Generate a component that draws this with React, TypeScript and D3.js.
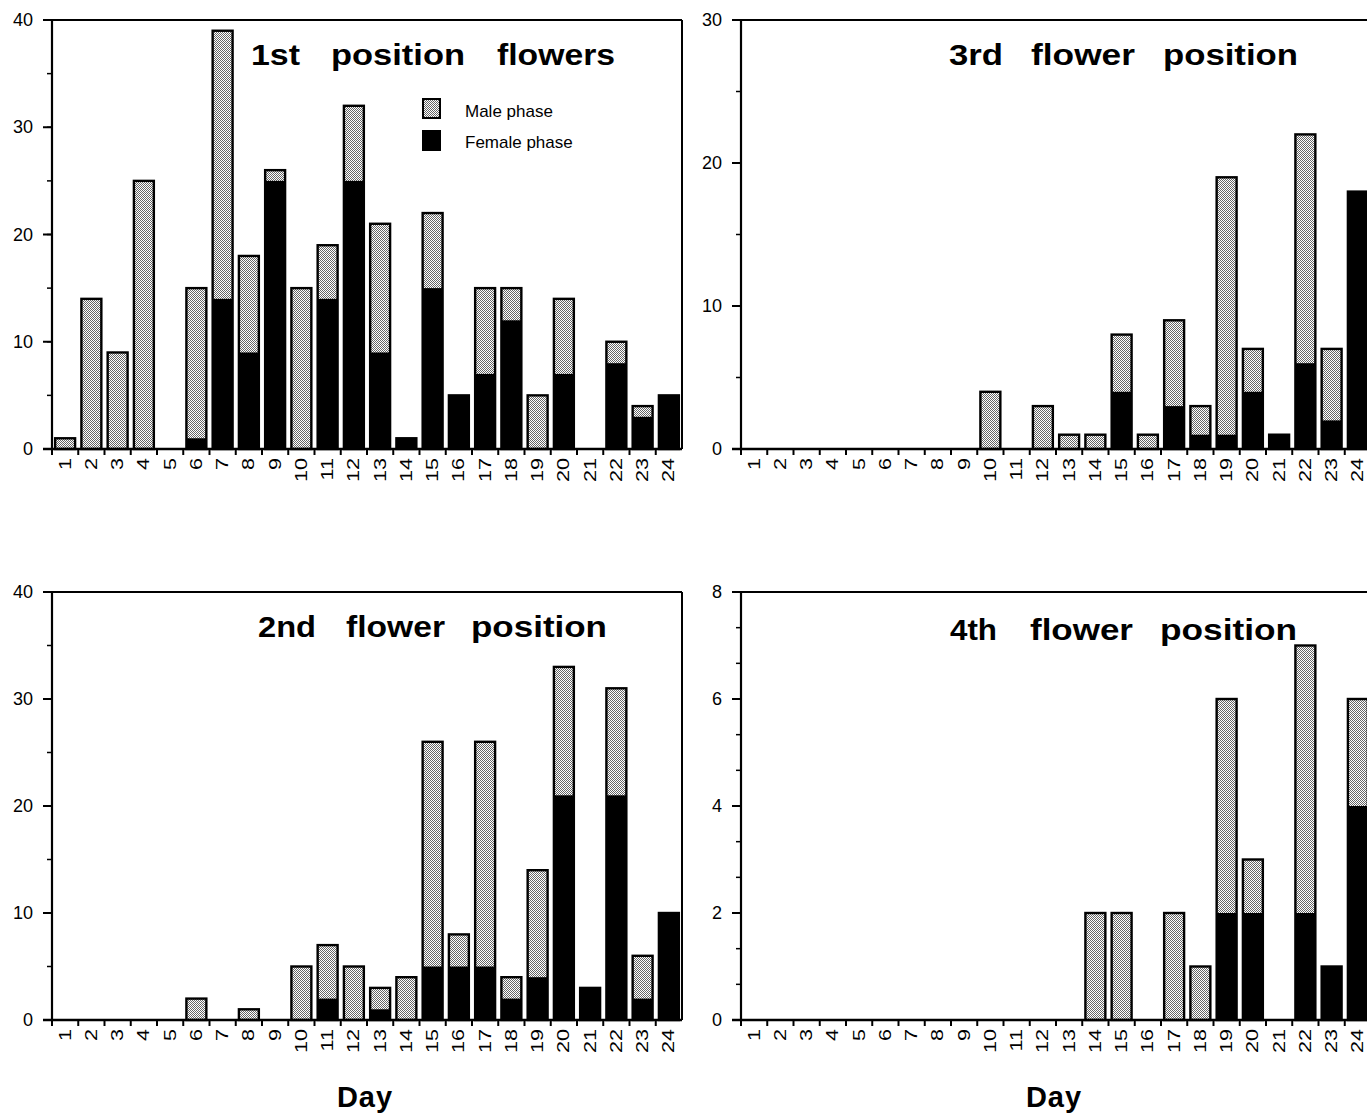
import * as d3 from "d3";

const days = d3.range(1, 25).map(String);

// totals and female-phase counts per day
const firstTotal = [1, 14, 9, 25, 0, 15, 39, 18, 26, 15, 19, 32, 21, 1, 22, 5, 15, 15, 5, 14, 0, 10, 4, 5];
const firstFemale = [0, 0, 0, 0, 0, 1, 14, 9, 25, 0, 14, 25, 9, 1, 15, 5, 7, 12, 0, 7, 0, 8, 3, 5];

const thirdTotal = [0, 0, 0, 0, 0, 0, 0, 0, 0, 4, 0, 3, 1, 1, 8, 1, 9, 3, 19, 7, 1, 22, 7, 18];
const thirdFemale = [0, 0, 0, 0, 0, 0, 0, 0, 0, 0, 0, 0, 0, 0, 4, 0, 3, 1, 1, 4, 1, 6, 2, 18];

const secondTotal = [0, 0, 0, 0, 0, 2, 0, 1, 0, 5, 7, 5, 3, 4, 26, 8, 26, 4, 14, 33, 3, 31, 6, 10];
const secondFemale = [0, 0, 0, 0, 0, 0, 0, 0, 0, 0, 2, 0, 1, 0, 5, 5, 5, 2, 4, 21, 3, 21, 2, 10];

const fourthTotal = [0, 0, 0, 0, 0, 0, 0, 0, 0, 0, 0, 0, 0, 2, 2, 0, 2, 1, 6, 3, 0, 7, 1, 6];
const fourthFemale = [0, 0, 0, 0, 0, 0, 0, 0, 0, 0, 0, 0, 0, 0, 0, 0, 0, 0, 2, 2, 0, 2, 1, 4];

const legendLabels = ["Male phase", "Female phase"];
const font = "'Liberation Sans', Arial, Helvetica, sans-serif";

// title words with [start, end] x extents
type Word = { text: string; x0: number; x1: number };

type PanelProps = {
  left: number;
  top: number;
  bottom: number;
  yMax: number;
  majorStep: number;
  minorStep: number;
  total: number[];
  female: number[];
  title: Word[];
  titleY: number;
  legend?: boolean;
  xLabel?: boolean;
};

function Panel(p: PanelProps) {
  const width = 630;
  const x = d3
    .scaleBand<string>()
    .domain(days)
    .range([p.left, p.left + width])
    .paddingInner(0.24)
    .paddingOuter(0.12);
  const y = d3.scaleLinear().domain([0, p.yMax]).range([p.bottom, p.top]);
  const majors = d3.range(0, p.yMax + 0.001, p.majorStep);
  const minors = d3.range(0, p.yMax + 0.001, p.minorStep);
  const right = p.left + width;
  const bounds = days.map((d) => x(d)! - (x.step() - x.bandwidth()) / 2).slice(1);

  return (
    <g>
      {/* frame */}
      <line x1={p.left} x2={right} y1={p.top} y2={p.top} stroke="#000" strokeWidth={2} />
      <line x1={right} x2={right} y1={p.top} y2={p.bottom} stroke="#000" strokeWidth={2} />

      {days.map((d, i) => {
        const tot = p.total[i];
        const fem = p.female[i];
        if (tot === 0) return null;
        const bx = x(d)!;
        const bw = x.bandwidth();
        return (
          <g key={d}>
            <rect x={bx} y={y(tot)} width={bw} height={y(0) - y(tot)} fill="url(#stipple)" />
            {fem > 0 && <rect x={bx} y={y(fem)} width={bw} height={y(0) - y(fem)} fill="#000" />}
            <rect x={bx} y={y(tot)} width={bw} height={y(0) - y(tot)} fill="none" stroke="#000" strokeWidth={2.4} />
          </g>
        );
      })}

      {/* y axis */}
      <line x1={p.left} x2={p.left} y1={p.top} y2={p.bottom} stroke="#000" strokeWidth={2.2} />
      {minors.map((v) => (
        <line key={"m" + v} x1={p.left - 5} x2={p.left} y1={y(v)} y2={y(v)} stroke="#000" strokeWidth={1.5} />
      ))}
      {majors.map((v) => (
        <g key={"M" + v}>
          <line x1={p.left - 9} x2={p.left} y1={y(v)} y2={y(v)} stroke="#000" strokeWidth={2} />
          <text x={p.left - 19} y={y(v)} textAnchor="end" dominantBaseline="central" fontSize={18} fontFamily={font}>
            {v}
          </text>
        </g>
      ))}

      {/* x axis */}
      <line x1={p.left - 9} x2={right} y1={p.bottom} y2={p.bottom} stroke="#000" strokeWidth={2.5} />
      {[p.left, ...bounds].map((b, i) => (
        <line key={"t" + i} x1={b} x2={b} y1={p.bottom} y2={p.bottom + 6} stroke="#000" strokeWidth={2} />
      ))}
      {days.map((d) => {
        const cx = x(d)! + x.bandwidth() / 2;
        const ty = p.bottom + 9;
        return (
          <text
            key={"l" + d}
            transform={`translate(${cx},${ty}) rotate(-90) scale(1.35,1)`}
            textAnchor="end"
            dominantBaseline="central"
            fontSize={16}
            fontFamily={font}
          >
            {d}
          </text>
        );
      })}

      {p.title.map((w) => (
        <text
          key={w.text}
          x={w.x0}
          y={p.titleY}
          fontSize={30}
          fontWeight="bold"
          fontFamily={font}
          textLength={w.x1 - w.x0}
          lengthAdjust="spacingAndGlyphs"
        >
          {w.text}
        </text>
      ))}

      {p.legend && (
        <g>
          <rect x={423} y={99} width={17} height={19} fill="url(#stipple)" stroke="#000" strokeWidth={2} />
          <rect x={422} y={130} width={19} height={21} fill="#000" />
          <text x={465} y={117} fontSize={17} fontFamily={font}>
            {legendLabels[0]}
          </text>
          <text x={465} y={148} fontSize={17} fontFamily={font}>
            {legendLabels[1]}
          </text>
        </g>
      )}

      {p.xLabel && (
        <text x={p.left + width / 2 - 2} y={1107} textAnchor="middle" fontSize={29} fontWeight="bold" fontFamily={font} letterSpacing={1}>
          Day
        </text>
      )}
    </g>
  );
}

export default function App() {
  return (
    <>
      <style>{`body{margin:0}`}</style>
      <svg width={1367} height={1113} style={{ display: "block", background: "#fff" }}>
        <defs>
          <pattern id="stipple" width={2} height={2} patternUnits="userSpaceOnUse">
            <rect width={2} height={2} fill="#fff" />
            <rect x={0} y={0} width={1} height={1} fill="#666" />
            <rect x={1} y={1} width={1} height={1} fill="#666" />
          </pattern>
        </defs>
        <Panel
          left={52}
          top={20}
          bottom={449}
          yMax={40}
          majorStep={10}
          minorStep={5}
          total={firstTotal}
          female={firstFemale}
          title={[
            { text: "1st", x0: 251, x1: 300 },
            { text: "position", x0: 331, x1: 465 },
            { text: "flowers", x0: 497, x1: 615 },
          ]}
          titleY={65}
          legend
        />
        <Panel
          left={741}
          top={20}
          bottom={449}
          yMax={30}
          majorStep={10}
          minorStep={5}
          total={thirdTotal}
          female={thirdFemale}
          title={[
            { text: "3rd", x0: 949, x1: 1003 },
            { text: "flower", x0: 1031, x1: 1135 },
            { text: "position", x0: 1163, x1: 1298 },
          ]}
          titleY={65}
        />
        <Panel
          left={52}
          top={592}
          bottom={1020}
          yMax={40}
          majorStep={10}
          minorStep={5}
          total={secondTotal}
          female={secondFemale}
          title={[
            { text: "2nd", x0: 258, x1: 316 },
            { text: "flower", x0: 346, x1: 445 },
            { text: "position", x0: 471, x1: 607 },
          ]}
          titleY={637}
          xLabel
        />
        <Panel
          left={741}
          top={592}
          bottom={1020}
          yMax={8}
          majorStep={2}
          minorStep={2 / 3}
          total={fourthTotal}
          female={fourthFemale}
          title={[
            { text: "4th", x0: 950, x1: 997 },
            { text: "flower", x0: 1030, x1: 1133 },
            { text: "position", x0: 1160, x1: 1297 },
          ]}
          titleY={640}
          xLabel
        />
      </svg>
    </>
  );
}
